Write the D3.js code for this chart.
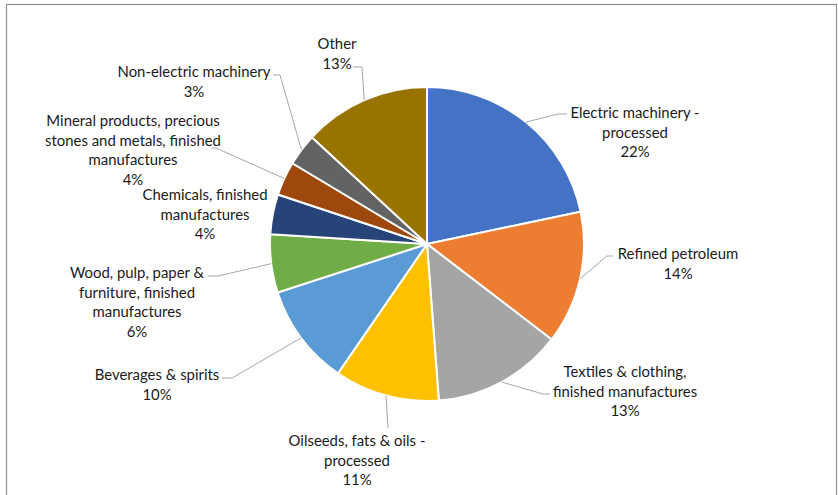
<!DOCTYPE html>
<html>
<head>
<meta charset="utf-8">
<script src="https://cdn.jsdelivr.net/npm/d3@7"></script>
<style>
  html, body { margin: 0; padding: 0; background: #fff; }
  svg { display: block; }
  .lbl { font-family: Lato, "Liberation Sans", sans-serif; font-size: 14.9px; fill: #1a1a1a; }
</style>
</head>
<body>
<svg id="chart" width="838" height="495"></svg>
<script>
'use strict';

// categories, clockwise from 12 o'clock
var categories = [
    'Electric machinery - processed',
    'Refined petroleum',
    'Textiles & clothing, finished manufactures',
    'Oilseeds, fats & oils - processed',
    'Beverages & spirits',
    'Wood, pulp, paper & furniture, finished manufactures',
    'Chemicals, finished manufactures',
    'Mineral products, precious stones and metals, finished manufactures',
    'Non-electric machinery',
    'Other'
];

// share of total
var shares = [21.7, 13.7, 13.4, 10.8, 10.4, 6.0, 4.1, 3.5, 3.3, 13.1];

// the rounded percentages printed on the labels
var pctLabels = ['22%', '14%', '13%', '11%', '10%', '6%', '4%', '4%', '3%', '13%'];

// label text broken into lines as in the original
var labelLines = [
    ['Electric machinery -', 'processed'],
    ['Refined petroleum'],
    ['Textiles & clothing,', 'finished manufactures'],
    ['Oilseeds, fats & oils -', 'processed'],
    ['Beverages & spirits'],
    ['Wood, pulp, paper &', 'furniture, finished', 'manufactures'],
    ['Chemicals, finished', 'manufactures'],
    ['Mineral products, precious', 'stones and metals, finished', 'manufactures'],
    ['Non-electric machinery'],
    ['Other']
];

var colors = ['#4472C4', '#ED7D31', '#A5A5A5', '#FFC000', '#5B9BD5',
              '#70AD47', '#264478', '#9E480E', '#636363', '#997300'];

// layout: label position (first line centre) and leader elbow/end, relative to pie centre
var labelLayout = [
    {at: [208, -132], elbow: [131, -130], end: [140, -130]},
    {at: [251, 9],    elbow: [180, 12],   end: [186, 12]},
    {at: [198, 127],  elbow: [116, 150],  end: [123, 150]},
    {at: [-70, 196],  elbow: [-39, 184],  end: [-39, 184]},
    {at: [-270, 130], elbow: [-195, 134], end: [-205, 134]},
    {at: [-290, 28],  elbow: [-209, 32],  end: [-219, 32]},
    {at: [-222, -50], elbow: null,        end: null},
    {at: [-294, -124], elbow: [-211, -96], end: [-215, -96]},
    {at: [-233, -173], elbow: [-147, -169], end: [-154, -169]},
    {at: [-90, -201], elbow: [-65, -177], end: [-74, -177]}
];

var cx = 427, cy = 244, radius = 157, lineH = 19.5;

var svg = d3.select('#chart');

// chart area frame (bottom/right run off the picture)
svg.append('rect')
    .attr('x', 6.5).attr('y', 4.5)
    .attr('width', 830).attr('height', 520)
    .attr('fill', 'none')
    .attr('stroke', '#8f8f8f')
    .attr('stroke-width', 1.2);

var data = categories.map(function (c, i) {
    return {name: c, value: shares[i], color: colors[i], pct: pctLabels[i],
            lines: labelLines[i], layout: labelLayout[i]};
});

var pie = d3.pie().sort(null).value(function (d) { return d.value; });
var arc = d3.arc().innerRadius(0).outerRadius(radius);

var g = svg.append('g').attr('transform', 'translate(' + cx + ',' + cy + ')');

var arcs = pie(data);

g.selectAll('.slice')
    .data(arcs)
  .enter().append('path')
    .attr('class', 'slice')
    .attr('d', arc)
    .attr('fill', function (d) { return d.data.color; })
    .attr('stroke', '#fff')
    .attr('stroke-width', 2);

// leader lines from the slice edge to the label
var line = d3.line();
g.selectAll('.leader')
    .data(arcs.filter(function (d) { return d.data.layout.elbow; }))
  .enter().append('path')
    .attr('class', 'leader')
    .attr('fill', 'none')
    .attr('stroke', '#a6a6a6')
    .attr('stroke-width', 1)
    .attr('d', function (d) {
        var a = (d.startAngle + d.endAngle) / 2;
        var start = [radius * Math.sin(a), -radius * Math.cos(a)];
        return line([start, d.data.layout.elbow, d.data.layout.end]);
    });

// labels
var labels = g.selectAll('.lbl')
    .data(arcs)
  .enter().append('text')
    .attr('class', 'lbl')
    .attr('text-anchor', 'middle')
    .attr('dominant-baseline', 'central');

labels.each(function (d) {
    var t = d3.select(this);
    var all = d.data.lines.concat([d.data.pct]);
    all.forEach(function (s, i) {
        t.append('tspan')
            .attr('x', d.data.layout.at[0])
            .attr('y', d.data.layout.at[1] + i * lineH)
            .text(s);
    });
});
</script>
</body>
</html>
